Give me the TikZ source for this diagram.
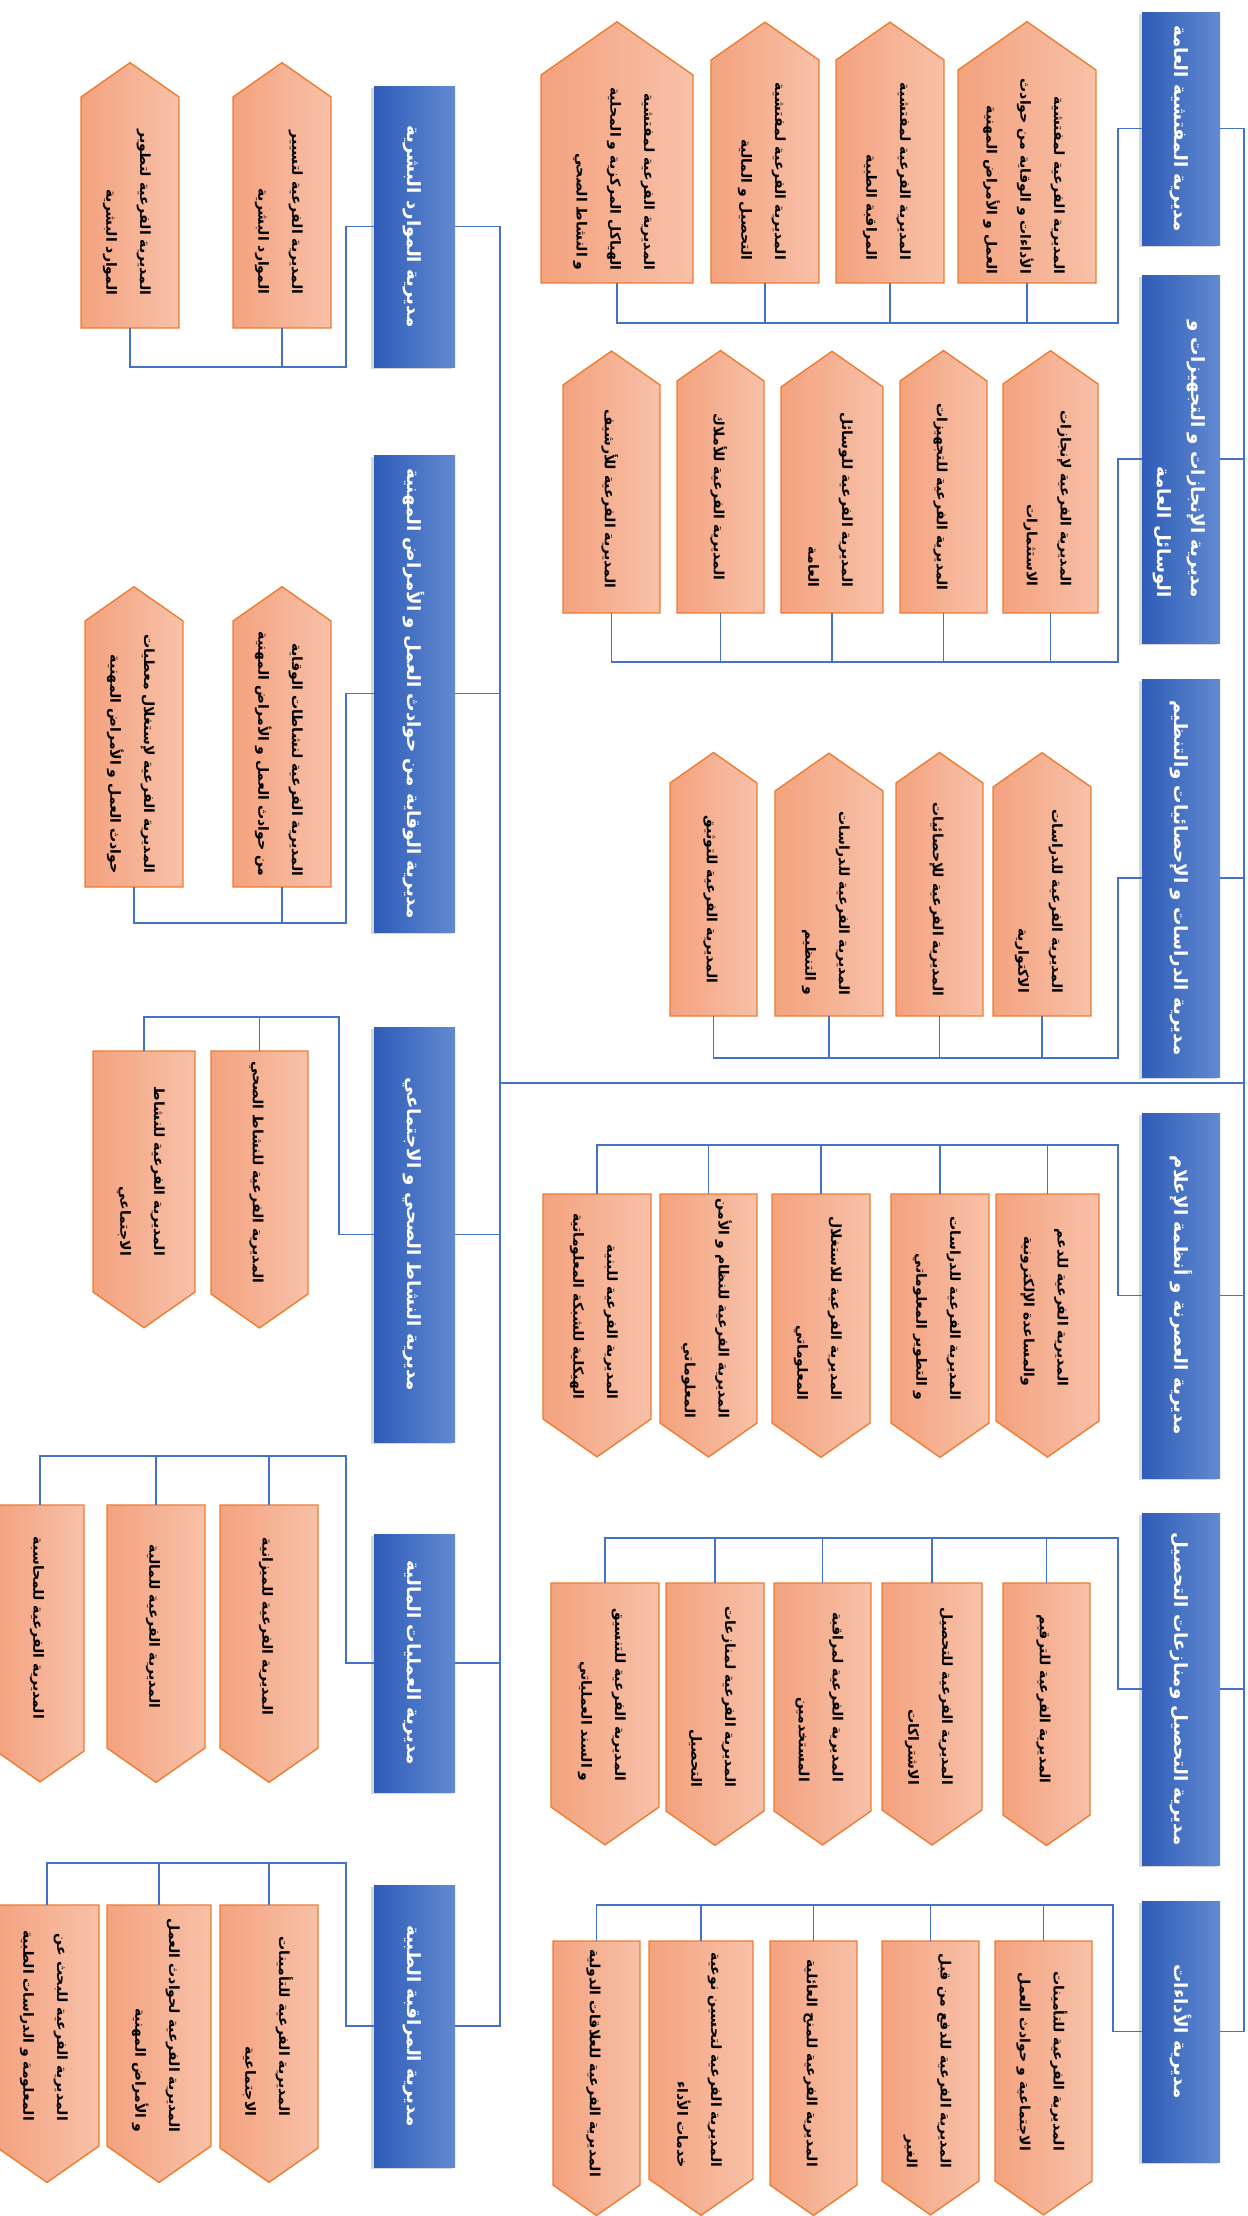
\documentclass[tikz,border=0pt]{standalone}
\usepackage{fontspec}
\newfontfamily\arabicfont[Script=Arabic]{DejaVu Sans}
\TeXXeTstate=1
\usepackage{graphicx}
\usepackage{tikz}
\usetikzlibrary{fit, shadows, calc}
\definecolor{TitleBlue}{RGB}{46,92,184}
\definecolor{TitleBlueLight}{RGB}{98,138,208}
\definecolor{WireBlue}{RGB}{68,114,196}
\definecolor{SubSalmon}{RGB}{244,162,126}
\definecolor{SubSalmonLight}{RGB}{247,193,169}
\definecolor{SubOrange}{RGB}{237,125,49}

\newcommand{\artxt}[1]{\beginR #1\endR}
\newcommand{\vlab}[1]{\rotatebox{-90}{\begin{tabular}{@{}r@{}}#1\end{tabular}}}
\newcommand{\subup}[6]{%
	\pgfmathsetmacro\midx{((#2)+(#3))/2}%
	\pgfmathsetmacro\tipy{(#4)-0.35*((#3)-(#2))}%
	\shade[subshape] (#2,#5) -- (#2,#4) -- (\midx,\tipy) -- (#3,#4) -- (#3,#5) -- cycle;
	\node[subtext, fit={(#2,#4) (#3,#5)}] (#1) {\vlab{#6}};}
\newcommand{\subdown}[6]{%
	\pgfmathsetmacro\midx{((#2)+(#3))/2}%
	\pgfmathsetmacro\tipy{(#5)+0.35*((#3)-(#2))}%
	\shade[subshape] (#2,#4) -- (#2,#5) -- (\midx,\tipy) -- (#3,#5) -- (#3,#4) -- cycle;
	\node[subtext, fit={(#2,#4) (#3,#5)}] (#1) {\vlab{#6}};}

\begin{document}
\begin{tikzpicture}[x=0.025cm, y=-0.025cm,
	ttl/.style={inner sep=0pt, left color=TitleBlue, right color=TitleBlueLight, text=white,
		font=\arabicfont\bfseries\fontsize{13}{24}\selectfont,
		drop shadow={shadow xshift=-2pt, shadow yshift=-1.5pt, opacity=.3}},
	subshape/.style={left color=SubSalmon, right color=SubSalmonLight, draw=SubOrange, line width=1pt},
	subtext/.style={inner sep=0pt, text=black, font=\arabicfont\bfseries\fontsize{10}{24}\selectfont},
	wire/.style={draw=WireBlue, line width=1.3pt}]
	\useasboundingbox (0,0) rectangle (1248,2216);
	\fill[white] (0,0) rectangle (1248,2216);
	\clip (0,0) rectangle (1248,2216);

	\node[ttl, fit={(1142,12) (1220,245)}] (t1) {\vlab{\artxt{مديرية المفتشية العامة}}};
	\node[ttl, fit={(1142,275) (1220,643)}] (t2) {\vlab{\artxt{مديرية الإنجازات و التجهيزات و}\\\artxt{الوسائل العامة}}};
	\node[ttl, fit={(1142,679) (1220,1077)}] (t3) {\vlab{\artxt{مديرية الدراسات و الإحصائيات والتنظيم}}};
	\node[ttl, fit={(1142,1113) (1220,1478)}] (t4) {\vlab{\artxt{مديرية العصرنة و أنظمة الإعلام}}};
	\node[ttl, fit={(1142,1513) (1220,1865)}] (t5) {\vlab{\artxt{مديرية التحصيل ومنازعات التحصيل}}};
	\node[ttl, fit={(1142,1901) (1220,2162)}] (t6) {\vlab{\artxt{مديرية الأداءات}}};

	\node[ttl, fit={(374,86) (455,367)}] (l1) {\vlab{\artxt{مديرية الموارد البشرية}}};
	\node[ttl, fit={(374,455) (455,932)}] (l2) {\vlab{\artxt{مديرية الوقاية من حوادث العمل و الأمراض المهنية}}};
	\node[ttl, fit={(374,1027) (455,1442)}] (l3) {\vlab{\artxt{مديرية النشاط الصحي و الاجتماعي}}};
	\node[ttl, fit={(374,1534) (455,1792)}] (l4) {\vlab{\artxt{مديرية العمليات المالية}}};
	\node[ttl, fit={(374,1885) (455,2167)}] (l5) {\vlab{\artxt{مديرية المراقبة الطبية}}};

	\subup{r1a}{958}{1096}{70}{283}{\artxt{المديرية الفرعية لمفتشية}\\\artxt{الأداءات و الوقاية من حوادث}\\\artxt{العمل و الأمراض المهنية}}
	\subup{r1b}{836}{944}{60}{283}{\artxt{المديرية الفرعية لمفتشية}\\\artxt{المراقبة الطبية}}
	\subup{r1c}{711}{819}{60}{283}{\artxt{المديرية الفرعية لمفتشية}\\\artxt{التحصيل و المالية}}
	\subup{r1d}{541}{693}{75}{283}{\artxt{المديرية الفرعية لمفتشية}\\\artxt{الهياكل المركزية و المحلية}\\\artxt{و النشاط الصحي}}

	\subup{r2a}{1003}{1098}{384}{613}{\artxt{المديرية الفرعية لإنجازات}\\\artxt{الاستثمارات}}
	\subup{r2b}{900}{987}{381}{613}{\artxt{المديرية الفرعية للتجهيزات}}
	\subup{r2c}{781}{883}{387}{613}{\artxt{المديرية الفرعية للوسائل}\\\artxt{العامة}}
	\subup{r2d}{677}{764}{381}{613}{\artxt{المديرية الفرعية للأملاك}}
	\subup{r2e}{563}{660}{385}{613}{\artxt{المديرية الفرعية للأرشيف}}

	\subup{r3a}{993}{1091}{787}{1016}{\artxt{المديرية الفرعية للدراسات}\\\artxt{الاكتوارية}}
	\subup{r3b}{896}{983}{783}{1016}{\artxt{المديرية الفرعية للإحصائيات}}
	\subup{r3c}{775}{883}{791}{1016}{\artxt{المديرية الفرعية للدراسات}\\\artxt{و التنظيم}}
	\subup{r3d}{670}{757}{783}{1016}{\artxt{المديرية الفرعية للتوثيق}}

	\subdown{r4a}{996}{1099}{1194}{1421}{\artxt{المديرية الفرعية للدعم}\\\artxt{والمساعدة الإلكترونية}}
	\subdown{r4b}{891}{989}{1194}{1423}{\artxt{المديرية الفرعية للدراسات}\\\artxt{و التطوير المعلوماتي}}
	\subdown{r4c}{772}{870}{1194}{1423}{\artxt{المديرية الفرعية للاستغلال}\\\artxt{المعلوماتي}}
	\subdown{r4d}{660}{757}{1194}{1423}{\artxt{المديرية الفرعية للنظام و الأمن}\\\artxt{المعلوماتي}}
	\subdown{r4e}{543}{651}{1194}{1419}{\artxt{المديرية الفرعية للبنية}\\\artxt{الهيكلية للشبكة المعلوماتية}}

	\subdown{r5a}{1003}{1090}{1583}{1815}{\artxt{المديرية الفرعية للترقيم}}
	\subdown{r5b}{882}{982}{1583}{1810}{\artxt{المديرية الفرعية للتحصيل}\\\artxt{الاشتراكات}}
	\subdown{r5c}{774}{871}{1583}{1811}{\artxt{المديرية الفرعية لمراقبة}\\\artxt{المستخدمين}}
	\subdown{r5d}{666}{764}{1583}{1811}{\artxt{المديرية الفرعية لمنازعات}\\\artxt{التحصيل}}
	\subdown{r5e}{551}{659}{1583}{1807}{\artxt{المديرية الفرعية للتنسيق}\\\artxt{و السند العملياتي}}

	\subdown{r6a}{995}{1092}{1941}{2181}{\artxt{المديرية الفرعية للتأمينات}\\\artxt{الاجتماعية و حوادث العمل}}
	\subdown{r6b}{882}{979}{1941}{2181}{\artxt{المديرية الفرعية للدفع من قبل}\\\artxt{الغير}}
	\subdown{r6c}{770}{857}{1941}{2185}{\artxt{المديرية الفرعية للمنح العائلية}}
	\subdown{r6d}{649}{753}{1941}{2179}{\artxt{المديرية الفرعية لتحسين نوعية}\\\artxt{خدمات الأداء}}
	\subdown{r6e}{553}{640}{1941}{2185}{\artxt{المديرية الفرعية للعلاقات الدولية}}

	\subup{l1a}{233}{331}{97}{328}{\artxt{المديرية الفرعية لتسيير}\\\artxt{الموارد البشرية}}
	\subup{l1b}{81}{179}{97}{328}{\artxt{المديرية الفرعية لتطوير}\\\artxt{الموارد البشرية}}
	\subup{l2a}{233}{331}{621}{887}{\artxt{المديرية الفرعية لنشاطات الوقاية}\\\artxt{من حوادث العمل و الأمراض المهنية}}
	\subup{l2b}{85}{183}{621}{887}{\artxt{المديرية الفرعية لإستغلال معطيات}\\\artxt{حوادث العمل و الأمراض المهنية}}
	\subdown{l3a}{211}{308}{1051}{1294}{\artxt{المديرية الفرعية للنشاط الصحي}}
	\subdown{l3b}{93}{195}{1051}{1292}{\artxt{المديرية الفرعية للنشاط}\\\artxt{الاجتماعي}}
	\subdown{l4a}{220}{318}{1505}{1748}{\artxt{المديرية الفرعية للميزانية}}
	\subdown{l4b}{107}{205}{1505}{1748}{\artxt{المديرية الفرعية للمالية}}
	\subdown{l4c}{-4}{84}{1505}{1751}{\artxt{المديرية الفرعية للمحاسبة}}
	\subdown{l5a}{220}{318}{1905}{2148}{\artxt{المديرية الفرعية للتأمينات}\\\artxt{الاجتماعية}}
	\subdown{l5b}{107}{211}{1905}{2146}{\artxt{المديرية الفرعية لحوادث العمل}\\\artxt{و الأمراض المهنية}}
	\subdown{l5c}{-5}{99}{1905}{2146}{\artxt{المديرية الفرعية للبحث عن}\\\artxt{المعلومة و الدراسات الطبية}}

	\coordinate (rtrunk) at (1244,0);
	\coordinate (ltrunk) at (500,0);
	\coordinate (hub) at (872,1083);
	\coordinate (rb1) at (1118,323);
	\coordinate (rb2) at (1118,662);
	\coordinate (rb3) at (1118,1058);
	\coordinate (rb4) at (1118,1145);
	\coordinate (rb5) at (1118,1538);
	\coordinate (rb6) at (1113,1905);
	\coordinate (lb1) at (346,367);
	\coordinate (lb2) at (346,923);
	\coordinate (lb3) at (339,1017);
	\coordinate (lb4) at (346,1456);
	\coordinate (lb5) at (346,1863);

	\draw[wire] (t1.east) -| (rtrunk |- t6.east) -- (t6.east);
	\foreach \t in {t2,t3,t4,t5} \draw[wire] (\t.east) -- (\t.east -| rtrunk);
	\draw[wire] (l1.east) -| (ltrunk |- l5.east) -- (l5.east);
	\foreach \t in {l2,l3,l4} \draw[wire] (\t.east) -- (\t.east -| ltrunk);
	\draw[wire] (ltrunk |- hub) -- (rtrunk |- hub);

	\draw[wire] (t1.west) -| (rb1) -| (r1d.south);
	\foreach \s in {r1a,r1b,r1c} \draw[wire] (\s.south) -- (\s.south |- rb1);
	\draw[wire] (t2.west) -| (rb2) -| (r2e.south);
	\foreach \s in {r2a,r2b,r2c,r2d} \draw[wire] (\s.south) -- (\s.south |- rb2);
	\draw[wire] (t3.west) -| (rb3) -| (r3d.south);
	\foreach \s in {r3a,r3b,r3c} \draw[wire] (\s.south) -- (\s.south |- rb3);
	\draw[wire] (t4.west) -| (rb4) -| (r4e.north);
	\foreach \s in {r4a,r4b,r4c,r4d} \draw[wire] (\s.north) -- (\s.north |- rb4);
	\draw[wire] (t5.west) -| (rb5) -| (r5e.north);
	\foreach \s in {r5a,r5b,r5c,r5d} \draw[wire] (\s.north) -- (\s.north |- rb5);
	\draw[wire] (t6.west) -| (rb6) -| (r6e.north);
	\foreach \s in {r6a,r6b,r6c,r6d} \draw[wire] (\s.north) -- (\s.north |- rb6);

	\draw[wire] (l1.west) -| (lb1) -| (l1b.south);
	\draw[wire] (l1a.south) -- (l1a.south |- lb1);
	\draw[wire] (l2.west) -| (lb2) -| (l2b.south);
	\draw[wire] (l2a.south) -- (l2a.south |- lb2);
	\draw[wire] (l3.west) -| (lb3) -| (l3b.north);
	\draw[wire] (l3a.north) -- (l3a.north |- lb3);
	\draw[wire] (l4.west) -| (lb4) -| (l4c.north);
	\foreach \s in {l4a,l4b} \draw[wire] (\s.north) -- (\s.north |- lb4);
	\draw[wire] (l5.west) -| (lb5) -| (l5c.north);
	\foreach \s in {l5a,l5b} \draw[wire] (\s.north) -- (\s.north |- lb5);
\end{tikzpicture}
\end{document}
